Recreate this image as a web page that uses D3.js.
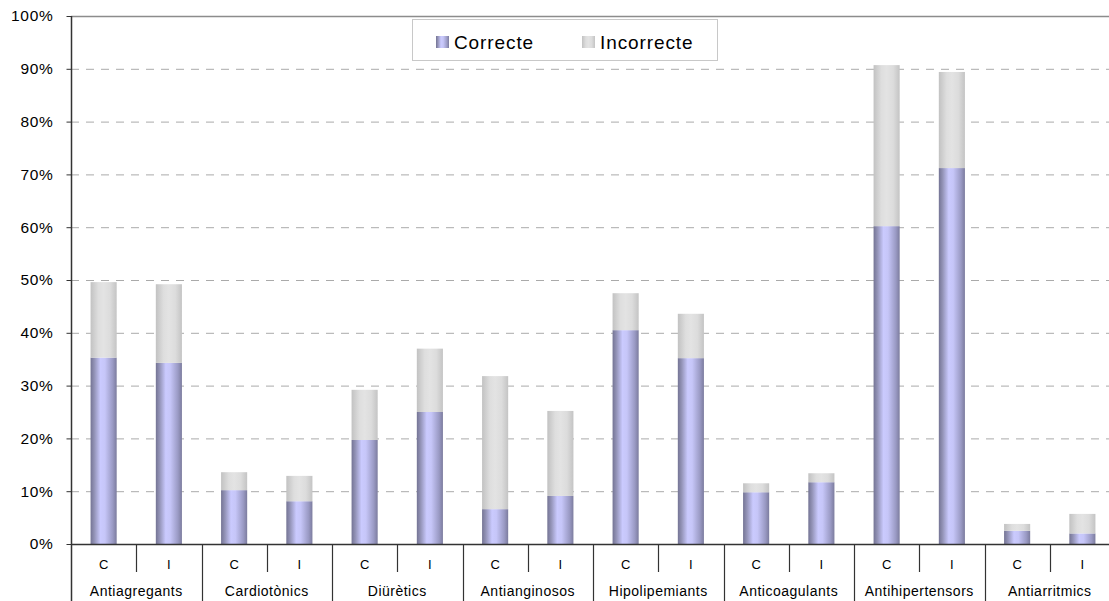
<!DOCTYPE html>
<html>
<head>
<meta charset="utf-8">
<script src="https://cdn.jsdelivr.net/npm/d3@7"></script>
<style>
  body { margin: 0; background: #fff; }
  svg text { font-family: "Liberation Sans", Arial, sans-serif; fill: #000; }
</style>
</head>
<body>
<svg id="chart" width="1109" height="601"></svg>
<script>
// data
const groups = ["Antiagregants", "Cardiotònics", "Diürètics", "Antianginosos",
  "Hipolipemiants", "Anticoagulants", "Antihipertensors", "Antiarritmics"];
const subs = ["C", "I"];
const correcte =   [35.3, 34.3, 10.2, 8.1, 19.7, 25.0, 6.6, 9.1, 40.5, 35.2, 9.8, 11.7, 60.2, 71.2, 2.5, 2.0];
const incorrecte = [14.3, 14.9, 3.4, 4.8, 9.5, 12.0, 25.2, 16.1, 7.0, 8.4, 1.7, 1.7, 30.5, 18.2, 1.3, 3.7];
const yTicks = [0, 10, 20, 30, 40, 50, 60, 70, 80, 90, 100];
const seriesNames = ["Correcte", "Incorrecte"];

const svg = d3.select("#chart");
const mLeft = 71, mRight = 1115, mTop = 16, mBottom = 544;

const slots = d3.range(groups.length * subs.length);
const rows = slots.map(i => ({ i: i, Correcte: correcte[i], Incorrecte: incorrecte[i] }));

const x = d3.scaleBand().domain(slots).range([mLeft, mRight]).padding(0);
const y = d3.scaleLinear().domain([0, 100]).range([mBottom, mTop]);
const barW = x.bandwidth() * 0.4;

// gradients
const defs = svg.append("defs");
function grad(id, stops) {
  const g = defs.append("linearGradient").attr("id", id)
    .attr("x1", "0").attr("x2", "1").attr("y1", "0").attr("y2", "0");
  stops.forEach(s => g.append("stop").attr("offset", s[0]).attr("stop-color", s[1]));
}
grad("gPurple", [[0, "#747494"], [0.15, "#9494b8"], [0.38, "#cacafe"], [0.55, "#c6c6f8"], [0.85, "#9a9ac4"], [1, "#7c7c9e"]]);
grad("gGray", [[0, "#c2c2c2"], [0.3, "#dedede"], [0.5, "#e3e3e3"], [0.75, "#dcdcdc"], [1, "#c4c4c4"]]);
const fills = { Correcte: "url(#gPurple)", Incorrecte: "url(#gGray)" };

// gridlines
svg.append("g")
  .selectAll("line")
  .data(yTicks.filter(t => t > 0 && t < 100))
  .enter().append("line")
  .attr("x1", mLeft).attr("x2", 1109)
  .attr("y1", d => y(d) + 0.5).attr("y2", d => y(d) + 0.5)
  .attr("stroke", "#aaa").attr("stroke-width", 1)
  .attr("stroke-dasharray", "8,7");

// top border
svg.append("line")
  .attr("x1", mLeft).attr("x2", 1109)
  .attr("y1", y(100) + 0.5).attr("y2", y(100) + 0.5)
  .attr("stroke", "#8c8c8c").attr("stroke-width", 1.5);

// bars
const stacked = d3.stack().keys(seriesNames)(rows);
svg.append("g")
  .selectAll("g")
  .data(stacked)
  .enter().append("g")
  .attr("fill", d => fills[d.key])
  .selectAll("rect")
  .data(d => d)
  .enter().append("rect")
  .attr("x", d => x(d.data.i) + (x.bandwidth() - barW) / 2)
  .attr("width", barW)
  .attr("y", d => y(d[1]))
  .attr("height", d => y(d[0]) - y(d[1]));

// y axis
const yAxis = svg.append("g")
  .attr("transform", "translate(" + (mLeft + 0.5) + ",0)")
  .call(d3.axisLeft(y).tickValues(yTicks).tickSize(5).tickPadding(13)
    .tickFormat(d => d + "%"));
yAxis.select(".domain").remove();
yAxis.selectAll(".tick line").attr("stroke", "#333");
yAxis.selectAll("text")
  .style("font-size", "15.5px")
  .style("letter-spacing", "0.7px")
  .attr("fill", "#000");
svg.append("line")
  .attr("x1", mLeft + 0.5).attr("x2", mLeft + 0.5)
  .attr("y1", mTop).attr("y2", 601)
  .attr("stroke", "#333").attr("stroke-width", 1.5);

// x axis line
svg.append("line")
  .attr("x1", mLeft).attr("x2", 1109)
  .attr("y1", mBottom + 0.5).attr("y2", mBottom + 0.5)
  .attr("stroke", "#333").attr("stroke-width", 1.5);

// dividers below the axis
const bounds = d3.range(1, slots.length + 1);
svg.append("g")
  .selectAll("line")
  .data(bounds)
  .enter().append("line")
  .attr("x1", d => Math.round(mLeft + d * x.step()) + 0.5)
  .attr("x2", d => Math.round(mLeft + d * x.step()) + 0.5)
  .attr("y1", mBottom)
  .attr("y2", d => d % 2 === 0 ? 601 : 572)
  .attr("stroke", "#333").attr("stroke-width", 1.2);

// sub labels C / I
svg.append("g")
  .selectAll("text")
  .data(slots)
  .enter().append("text")
  .attr("x", d => x(d) + x.bandwidth() / 2)
  .attr("y", 569)
  .attr("text-anchor", "middle")
  .style("font-size", "13px")
  .text(d => subs[d % 2]);

// group labels
svg.append("g")
  .selectAll("text")
  .data(groups)
  .enter().append("text")
  .attr("x", (d, i) => mLeft + (i + 1) * x.step() * 2 - x.step())
  .attr("y", 596)
  .attr("text-anchor", "middle")
  .style("font-size", "14px")
  .style("letter-spacing", "0.5px")
  .text(d => d);

// legend
const legend = svg.append("g");
legend.append("rect")
  .attr("x", 412.5).attr("y", 19.5).attr("width", 305).attr("height", 41)
  .attr("fill", "#fff").attr("stroke", "#c8c8c8").attr("stroke-width", 1);
const legX = [436, 582];
seriesNames.forEach((name, i) => {
  legend.append("rect")
    .attr("x", legX[i]).attr("y", 36).attr("width", 13).attr("height", 12)
    .attr("fill", fills[name]);
  legend.append("text")
    .attr("x", legX[i] + 18).attr("y", 48.5)
    .style("font-size", "19px")
    .style("letter-spacing", "0.9px")
    .text(name);
});
</script>
</body>
</html>
